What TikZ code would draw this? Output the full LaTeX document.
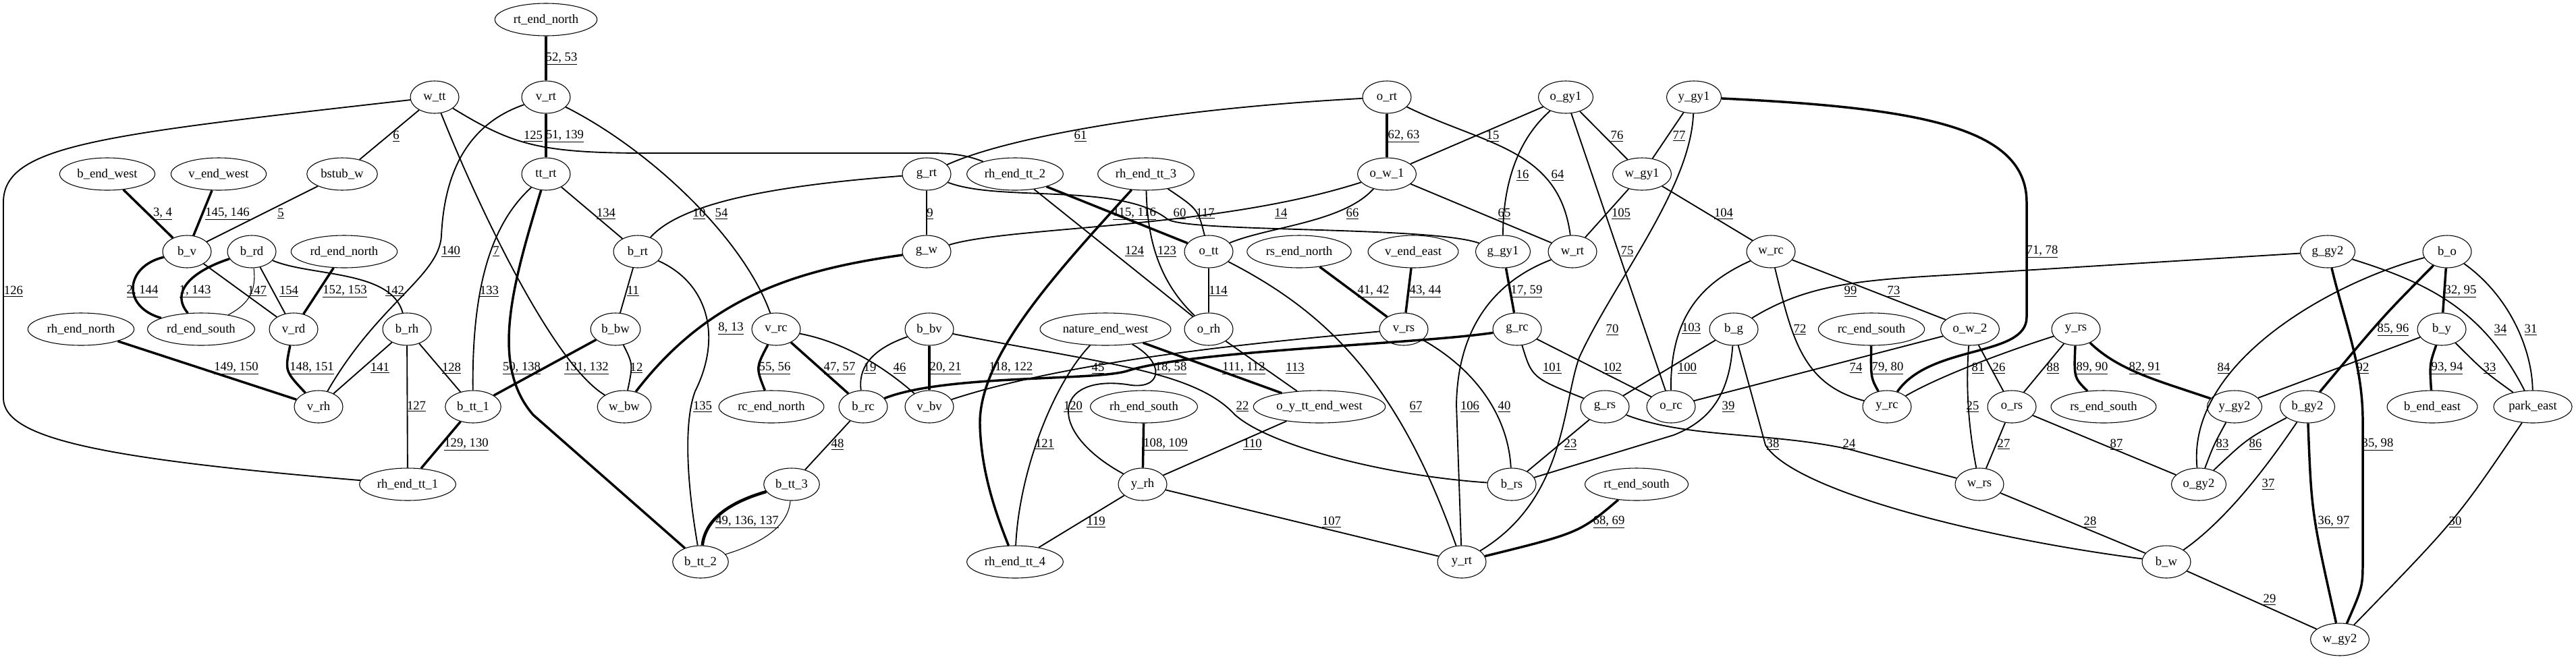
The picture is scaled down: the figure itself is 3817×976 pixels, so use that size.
\documentclass[tikz,border=0pt]{standalone}
\usepackage{fontspec}
\setmainfont{Liberation Serif}
\usetikzlibrary{shapes.geometric}
\tikzset{
	stn/.style={draw, ellipse, line width=0.8pt, minimum height=36pt, minimum width=54pt, inner xsep=4pt, font=\fontsize{14}{16}\selectfont},
	elab/.style={inner sep=1pt, font=\fontsize{14}{16}\selectfont},
	route/.style={line width=1.4pt},
	dbl/.style={line width=2.6pt},
	trpl/.style={line width=3.4pt},
	thinr/.style={line width=0.8pt}
}
\def\rno#1(#2)#3{\node[elab] (#1) at (#2) {\underline{#3}};}

\begin{document}
\begin{tikzpicture}[x=0.75pt, y=-0.75pt]
		%%%%% START %%%%%
		\useasboundingbox (0,0) rectangle (3817,976);
		
		% stations, rank by rank
		\node[stn] (rt_end_north) at (809,29) {rt\_end\_north};
		
		\node[stn] (w_tt) at (644,144) {w\_tt};
		\node[stn] (v_rt) at (809,144) {v\_rt};
		\node[stn] (o_rt) at (2055,144) {o\_rt};
		\node[stn] (o_gy1) at (2320,144) {o\_gy1};
		\node[stn] (y_gy1) at (2510,144) {y\_gy1};
		
		\node[stn] (b_end_west) at (159,258) {b\_end\_west};
		\node[stn] (v_end_west) at (324,258) {v\_end\_west};
		\node[stn] (bstub_w) at (507,258) {bstub\_w};
		\node[stn] (tt_rt) at (809,258) {tt\_rt};
		\node[stn] (g_rt) at (1373,258) {g\_rt};
		\node[stn] (rh_end_tt_2) at (1504,258) {rh\_end\_tt\_2};
		\node[stn] (rh_end_tt_3) at (1698,258) {rh\_end\_tt\_3};
		\node[stn] (o_w_1) at (2055,258) {o\_w\_1};
		\node[stn] (w_gy1) at (2433,258) {w\_gy1};
		
		\node[stn] (b_v) at (277,373) {b\_v};
		\node[stn] (b_rd) at (373,373) {b\_rd};
		\node[stn] (rd_end_north) at (510,373) {rd\_end\_north};
		\node[stn] (b_rt) at (945,373) {b\_rt};
		\node[stn] (g_w) at (1373,373) {g\_w};
		\node[stn] (o_tt) at (1791,373) {o\_tt};
		\node[stn] (rs_end_north) at (1925,373) {rs\_end\_north};
		\node[stn] (v_end_east) at (2094,373) {v\_end\_east};
		\node[stn] (g_gy1) at (2227,373) {g\_gy1};
		\node[stn] (w_rt) at (2330,373) {w\_rt};
		\node[stn] (w_rc) at (2624,373) {w\_rc};
		\node[stn] (g_gy2) at (3449,373) {g\_gy2};
		\node[stn] (b_o) at (3626,373) {b\_o};
		
		\node[stn] (rh_end_north) at (120,488) {rh\_end\_north};
		\node[stn] (rd_end_south) at (298,488) {rd\_end\_south};
		\node[stn] (v_rd) at (435,488) {v\_rd};
		\node[stn] (b_rh) at (603,488) {b\_rh};
		\node[stn] (b_bw) at (912,488) {b\_bw};
		\node[stn] (v_rc) at (1150,488) {v\_rc};
		\node[stn] (b_bv) at (1377,488) {b\_bv};
		\node[stn] (nature_end_west) at (1638,488) {nature\_end\_west};
		\node[stn] (o_rh) at (1791,488) {o\_rh};
		\node[stn] (v_rs) at (2080,488) {v\_rs};
		\node[stn] (g_rc) at (2248,488) {g\_rc};
		\node[stn] (b_g) at (2569,488) {b\_g};
		\node[stn] (rc_end_south) at (2773,488) {rc\_end\_south};
		\node[stn] (o_w_2) at (2919,488) {o\_w\_2};
		\node[stn] (y_rs) at (3076,488) {y\_rs};
		\node[stn] (b_y) at (3618,488) {b\_y};
		
		\node[stn] (v_rh) at (472,603) {v\_rh};
		\node[stn] (b_tt_1) at (701,603) {b\_tt\_1};
		\node[stn] (w_bw) at (925,603) {w\_bw};
		\node[stn] (rc_end_north) at (1143,603) {rc\_end\_north};
		\node[stn] (b_rc) at (1279,603) {b\_rc};
		\node[stn] (v_bv) at (1377,603) {v\_bv};
		\node[stn] (rh_end_south) at (1695,603) {rh\_end\_south};
		\node[stn] (o_y_tt_end_west) at (1955,603) {o\_y\_tt\_end\_west};
		\node[stn] (g_rs) at (2378,603) {g\_rs};
		\node[stn] (o_rc) at (2476,603) {o\_rc};
		\node[stn] (y_rc) at (2796,603) {y\_rc};
		\node[stn] (o_rs) at (2981,603) {o\_rs};
		\node[stn] (rs_end_south) at (3117,603) {rs\_end\_south};
		\node[stn] (y_gy2) at (3311,603) {y\_gy2};
		\node[stn] (b_gy2) at (3419,603) {b\_gy2};
		\node[stn] (b_end_east) at (3604,603) {b\_end\_east};
		\node[stn] (park_east) at (3753,603) {park\_east};
		
		\node[stn] (rh_end_tt_1) at (604,718) {rh\_end\_tt\_1};
		\node[stn] (b_tt_3) at (1173,718) {b\_tt\_3};
		\node[stn] (y_rh) at (1693,718) {y\_rh};
		\node[stn] (b_rs) at (2240,718) {b\_rs};
		\node[stn] (rt_end_south) at (2425,718) {rt\_end\_south};
		\node[stn] (w_rs) at (2933,718) {w\_rs};
		\node[stn] (o_gy2) at (3258,718) {o\_gy2};
		
		\node[stn] (b_tt_2) at (1038,833) {b\_tt\_2};
		\node[stn] (rh_end_tt_4) at (1504,833) {rh\_end\_tt\_4};
		\node[stn] (y_rt) at (2166,833) {y\_rt};
		\node[stn] (b_w) at (3210,833) {b\_w};
		
		\node[stn] (w_gy2) at (3467,948) {w\_gy2};
		
		% routes, west part
		\draw[route] (w_tt) -- (bstub_w);
		\draw[route] (w_tt) .. controls (150,200) and (5,215) .. (5,300) -- (5,590) .. controls (5,650) and (150,680) .. (rh_end_tt_1);
		\draw[dbl] (b_end_west) -- (b_v);
		\draw[dbl] (v_end_west) -- (b_v);
		\draw[route] (bstub_w) -- (b_v);
		\draw[dbl] (b_v) .. controls (185,395) and (180,455) .. (rd_end_south);
		\draw[dbl] (b_rd) .. controls (290,400) and (250,430) .. (rd_end_south);
		\draw[thinr] (b_rd) .. controls (380,430) and (370,450) .. (rd_end_south);
		\draw[route] (b_v) -- (v_rd);
		\draw[route] (b_rd) -- (v_rd);
		\draw[dbl] (rd_end_north) -- (v_rd);
		\draw[route] (b_rd) .. controls (460,410) and (580,400) .. (b_rh);
		\draw[dbl] (rt_end_north) -- (v_rt);
		\draw[dbl] (v_rt) -- (tt_rt);
		\draw[route] (w_tt) .. controls (760,215) and (800,227) .. (960,227) -- (1380,227) .. controls (1420,227) and (1440,233) .. (rh_end_tt_2);
		\draw[route] (v_rt) .. controls (690,185) and (658,260) .. (654,350) .. controls (650,410) and (560,450) .. (v_rh);
		\draw[route] (v_rt) .. controls (960,220) and (1100,350) .. (v_rc);
		\draw[route] (w_tt) .. controls (710,310) and (820,540) .. (w_bw);
		\draw[route] (tt_rt) -- (b_rt);
		\draw[route] (tt_rt) .. controls (730,330) and (699,420) .. (b_tt_1);
		\draw[dbl] (tt_rt) .. controls (760,420) and (725,540) .. (790,615) -- (b_tt_2);
		\draw[route] (b_rt) -- (b_bw);
		\draw[route] (g_rt) .. controls (1150,275) and (1010,300) .. (b_rt);
		\draw[route] (b_rt) .. controls (1050,420) and (1070,500) .. (1030,580) .. controls (1015,620) and (1015,700) .. (b_tt_2);
		\draw[dbl] (g_w) .. controls (1180,400) and (1050,440) .. (w_bw);
		\draw[route] (b_bw) .. controls (938,540) .. (w_bw);
		\draw[dbl] (b_bw) -- (b_tt_1);
		\draw[route] (b_rh) -- (b_tt_1);
		\draw[route] (b_rh) -- (rh_end_tt_1);
		\draw[route] (b_rh) -- (v_rh);
		\draw[dbl] (b_tt_1) -- (rh_end_tt_1);
		\draw[dbl] (rh_end_north) -- (v_rh);
		\draw[dbl] (v_rd) .. controls (422,550) .. (v_rh);
		\draw[dbl] (v_rc) .. controls (1120,545) .. (rc_end_north);
		\draw[dbl] (v_rc) -- (b_rc);
		\draw[route] (v_rc) .. controls (1240,505) and (1300,535) .. (v_bv);
		\draw[route] (b_rc) -- (b_tt_3);
		\draw[trpl] (b_tt_3) .. controls (1080,745) and (1045,770) .. (b_tt_2);
		\draw[thinr] (b_tt_3) .. controls (1168,780) and (1130,805) .. (b_tt_2);
		
		% routes, middle part
		\draw[route] (g_rt) -- (g_w);
		\draw[route] (g_rt) .. controls (1500,200) and (1750,160) .. (o_rt);
		\draw[route] (g_rt) .. controls (1480,300) and (1660,270) .. (1730,325) .. controls (1760,345) and (2120,335) .. (g_gy1);
		\draw[route] (g_w) .. controls (1500,335) and (1800,340) .. (o_w_1);
		\draw[route] (o_tt) .. controls (1880,336) and (1990,330) .. (o_w_1);
		\draw[dbl] (rh_end_tt_2) -- (o_tt);
		\draw[route] (rh_end_tt_2) -- (o_rh);
		\draw[dbl] (rh_end_tt_3) .. controls (1560,410) and (1450,530) .. (1452,630) .. controls (1454,700) and (1475,760) .. (rh_end_tt_4);
		\draw[route] (rh_end_tt_3) .. controls (1700,360) and (1720,420) .. (o_rh);
		\draw[route] (rh_end_tt_3) .. controls (1775,310) .. (o_tt);
		\draw[route] (o_tt) -- (o_rh);
		\draw[route] (o_tt) .. controls (1960,460) and (2070,560) .. (y_rt);
		\draw[route] (o_rh) -- (o_y_tt_end_west);
		\draw[route] (nature_end_west) .. controls (1560,570) and (1510,700) .. (rh_end_tt_4);
		\draw[dbl] (nature_end_west) -- (o_y_tt_end_west);
		\draw[route] (nature_end_west) .. controls (1730,540) and (1720,580) .. (1670,570) .. controls (1560,555) and (1550,640) .. (y_rh);
		\draw[dbl] (rh_end_south) -- (y_rh);
		\draw[route] (y_rh) -- (o_y_tt_end_west);
		\draw[route] (y_rh) -- (y_rt);
		\draw[route] (y_rh) -- (rh_end_tt_4);
		\draw[route] (b_bv) .. controls (1285,520) and (1272,550) .. (b_rc);
		\draw[dbl] (b_bv) -- (v_bv);
		\draw[dbl] (g_rc) .. controls (2100,510) and (1760,520) .. (1670,550) .. controls (1620,565) and (1400,555) .. (b_rc);
		\draw[route] (b_bv) .. controls (1640,540) and (1770,550) .. (1830,615) .. controls (1880,660) and (2050,705) .. (b_rs);
		\draw[route] (v_rs) .. controls (1900,505) and (1600,530) .. (v_bv);
		\draw[route] (v_rs) .. controls (2190,550) and (2235,620) .. (b_rs);
		\draw[dbl] (rs_end_north) -- (v_rs);
		\draw[dbl] (v_end_east) -- (v_rs);
		\draw[dbl] (o_rt) -- (o_w_1);
		\draw[route] (o_rt) .. controls (2200,215) and (2310,220) .. (w_rt);
		\draw[route] (o_gy1) -- (o_w_1);
		\draw[route] (o_gy1) .. controls (2245,210) and (2227,280) .. (g_gy1);
		\draw[route] (o_gy1) -- (w_gy1);
		\draw[route] (o_gy1) -- (o_rc);
		\draw[route] (y_gy1) -- (w_gy1);
		\draw[route] (y_gy1) .. controls (2505,280) and (2390,420) .. (2340,530) .. controls (2315,600) and (2320,740) .. (y_rt);
		\draw[dbl] (y_gy1) .. controls (2850,160) and (3003,190) .. (3003,300) -- (3003,470) .. controls (3003,530) and (2860,510) .. (y_rc);
		\draw[route] (w_gy1) -- (w_rt);
		\draw[route] (w_gy1) -- (w_rc);
		\draw[route] (o_w_1) -- (w_rt);
		\draw[dbl] (g_gy1) -- (g_rc);
		\draw[route] (w_rt) .. controls (2220,415) and (2160,480) .. (2158,600) -- (y_rt);
		
		% routes, east part
		\draw[route] (w_rc) .. controls (2520,420) and (2475,470) .. (o_rc);
		\draw[route] (w_rc) .. controls (2655,500) and (2670,570) .. (y_rc);
		\draw[route] (w_rc) -- (o_w_2);
		\draw[route] (b_g) .. controls (2680,420) and (2760,415) .. (2900,407) -- (g_gy2);
		\draw[route] (b_g) -- (g_rs);
		\draw[route] (b_g) .. controls (2562,590) and (2530,625) .. (2480,645) -- (b_rs);
		\draw[route] (b_g) -- (2616,660) .. controls (2660,730) and (2950,800) .. (b_w);
		\draw[route] (g_rc) .. controls (2270,560) .. (g_rs);
		\draw[route] (g_rc) -- (o_rc);
		\draw[route] (g_rs) -- (b_rs);
		\draw[route] (g_rs) .. controls (2500,650) and (2620,640) .. (2740,666) -- (w_rs);
		\draw[route] (o_rc) -- (o_w_2);
		\draw[dbl] (rt_end_south) .. controls (2340,790) .. (y_rt);
		\draw[dbl] (rc_end_south) .. controls (2772,560) .. (y_rc);
		\draw[route] (y_rs) .. controls (2960,525) and (2870,560) .. (y_rc);
		\draw[route] (o_w_2) .. controls (2912,580) and (2918,640) .. (w_rs);
		\draw[route] (o_w_2) -- (o_rs);
		\draw[route] (y_rs) -- (o_rs);
		\draw[dbl] (y_rs) .. controls (3073,560) .. (rs_end_south);
		\draw[dbl] (y_rs) .. controls (3140,550) and (3200,565) .. (y_gy2);
		\draw[route] (o_rs) -- (w_rs);
		\draw[route] (o_rs) -- (o_gy2);
		\draw[route] (w_rs) -- (b_w);
		\draw[route] (b_o) .. controls (3450,420) and (3240,540) .. (o_gy2);
		\draw[dbl] (b_o) -- (b_y);
		\draw[dbl] (b_o) .. controls (3530,470) .. (b_gy2);
		\draw[route] (b_o) .. controls (3720,440) and (3752,520) .. (park_east);
		\draw[dbl] (g_gy2) .. controls (3475,480) and (3500,540) .. (3501,620) -- (3501,830) .. controls (3501,870) .. (w_gy2);
		\draw[route] (g_gy2) .. controls (3600,420) and (3680,460) .. (park_east);
		\draw[route] (b_y) -- (y_gy2);
		\draw[dbl] (b_y) .. controls (3600,540) .. (b_end_east);
		\draw[route] (b_y) .. controls (3680,550) .. (park_east);
		\draw[route] (y_gy2) .. controls (3280,660) .. (o_gy2);
		\draw[route] (b_gy2) .. controls (3330,650) .. (o_gy2);
		\draw[route] (b_gy2) .. controls (3360,690) and (3300,770) .. (b_w);
		\draw[dbl] (b_gy2) .. controls (3425,760) .. (w_gy2);
		\draw[route] (park_east) .. controls (3640,770) .. (w_gy2);
		\draw[route] (b_w) -- (w_gy2);
		
		% route numbers
		\rno{l6}(587,202){6}
		\rno{l126}(20,432){126}
		\rno{l3_4}(241,317){3, 4}
		\rno{l145_146}(337,317){145, 146}
		\rno{l5}(416,317){5}
		\rno{l2_144}(211,432){2, 144}
		\rno{l1_143}(289,432){1, 143}
		\rno{l147}(381,432){147}
		\rno{l154}(428,432){154}
		\rno{l152_153}(511,432){152, 153}
		\rno{l142}(585,432){142}
		\rno{l52_53}(832,87){52, 53}
		\rno{l125}(790,202){125}
		\rno{l51_139}(837,202){51, 139}
		\rno{l134}(898,317){134}
		\rno{l10}(1036,317){10}
		\rno{l54}(1069,317){54}
		\rno{l140}(668,373){140}
		\rno{l7}(735,373){7}
		\rno{l133}(725,432){133}
		\rno{l11}(938,432){11}
		\rno{l8_13}(1083,487){8, 13}
		\rno{l61}(1601,202){61}
		\rno{l9}(1378,317){9}
		\rno{l115_116}(1681,317){115, 116}
		\rno{l60}(1748,317){60}
		\rno{l117}(1786,317){117}
		\rno{l124}(1681,373){124}
		\rno{l123}(1729,373){123}
		\rno{l114}(1805,432){114}
		\rno{l14}(1898,317){14}
		\rno{l62_63}(2080,202){62, 63}
		\rno{l15}(2212,202){15}
		\rno{l76}(2396,202){76}
		\rno{l77}(2488,202){77}
		\rno{l16}(2256,260){16}
		\rno{l64}(2308,260){64}
		\rno{l66}(2004,317){66}
		\rno{l65}(2229,317){65}
		\rno{l105}(2402,317){105}
		\rno{l75}(2411,373){75}
		\rno{l41_42}(2035,432){41, 42}
		\rno{l43_44}(2112,432){43, 44}
		\rno{l17_59}(2262,432){17, 59}
		\rno{l70}(2389,489){70}
		\rno{l103}(2506,487){103}
		\rno{l104}(2554,317){104}
		\rno{l71_78}(3026,373){71, 78}
		\rno{l99}(2742,432){99}
		\rno{l73}(2806,432){73}
		\rno{l72}(2667,489){72}
		\rno{l32_95}(3646,432){32, 95}
		\rno{l85_96}(3546,489){85, 96}
		\rno{l34}(3705,489){34}
		\rno{l31}(3750,489){31}
		\rno{l149_150}(350,546){149, 150}
		\rno{l148_151}(462,546){148, 151}
		\rno{l141}(563,546){141}
		\rno{l127}(617,603){127}
		\rno{l128}(669,546){128}
		\rno{l50_138}(773,546){50, 138}
		\rno{l131_132}(869,546){131, 132}
		\rno{l12}(943,546){12}
		\rno{l55_56}(1148,546){55, 56}
		\rno{l47_57}(1244,546){47, 57}
		\rno{l135}(1041,603){135}
		\rno{l129_130}(691,659){129, 130}
		\rno{l48}(1241,659){48}
		\rno{l49_136_137}(1107,774){49, 136, 137}
		\rno{l19}(1289,546){19}
		\rno{l46}(1333,546){46}
		\rno{l20_21}(1401,546){20, 21}
		\rno{l118_122}(1498,546){118, 122}
		\rno{l45}(1627,546){45}
		\rno{l18_58}(1735,546){18, 58}
		\rno{l111_112}(1843,546){111, 112}
		\rno{l120}(1590,603){120}
		\rno{l22}(1841,603){22}
		\rno{l121}(1548,659){121}
		\rno{l108_109}(1727,659){108, 109}
		\rno{l110}(1856,659){110}
		\rno{l119}(1624,774){119}
		\rno{l113}(1919,546){113}
		\rno{l101}(2300,546){101}
		\rno{l102}(2389,546){102}
		\rno{l100}(2500,546){100}
		\rno{l67}(2098,603){67}
		\rno{l106}(2178,603){106}
		\rno{l40}(2229,603){40}
		\rno{l23}(2327,659){23}
		\rno{l107}(1973,774){107}
		\rno{l68_69}(2384,774){68, 69}
		\rno{l74}(2750,546){74}
		\rno{l79_80}(2797,546){79, 80}
		\rno{l81}(2931,546){81}
		\rno{l26}(2962,546){26}
		\rno{l88}(3042,546){88}
		\rno{l89_90}(3100,546){89, 90}
		\rno{l82_91}(3178,546){82, 91}
		\rno{l39}(2561,603){39}
		\rno{l25}(2923,603){25}
		\rno{l38}(2627,659){38}
		\rno{l24}(2740,659){24}
		\rno{l27}(2969,659){27}
		\rno{l87}(3136,659){87}
		\rno{l28}(3097,774){28}
		\rno{l84}(3295,546){84}
		\rno{l92}(3501,546){92}
		\rno{l93_94}(3626,546){93, 94}
		\rno{l33}(3689,546){33}
		\rno{l83}(3293,659){83}
		\rno{l86}(3342,659){86}
		\rno{l35_98}(3523,659){35, 98}
		\rno{l37}(3361,718){37}
		\rno{l36_97}(3458,774){36, 97}
		\rno{l30}(3638,774){30}
		\rno{l29}(3363,889){29}
		%%%%% END %%%%%
	\end{tikzpicture}
\end{document}
